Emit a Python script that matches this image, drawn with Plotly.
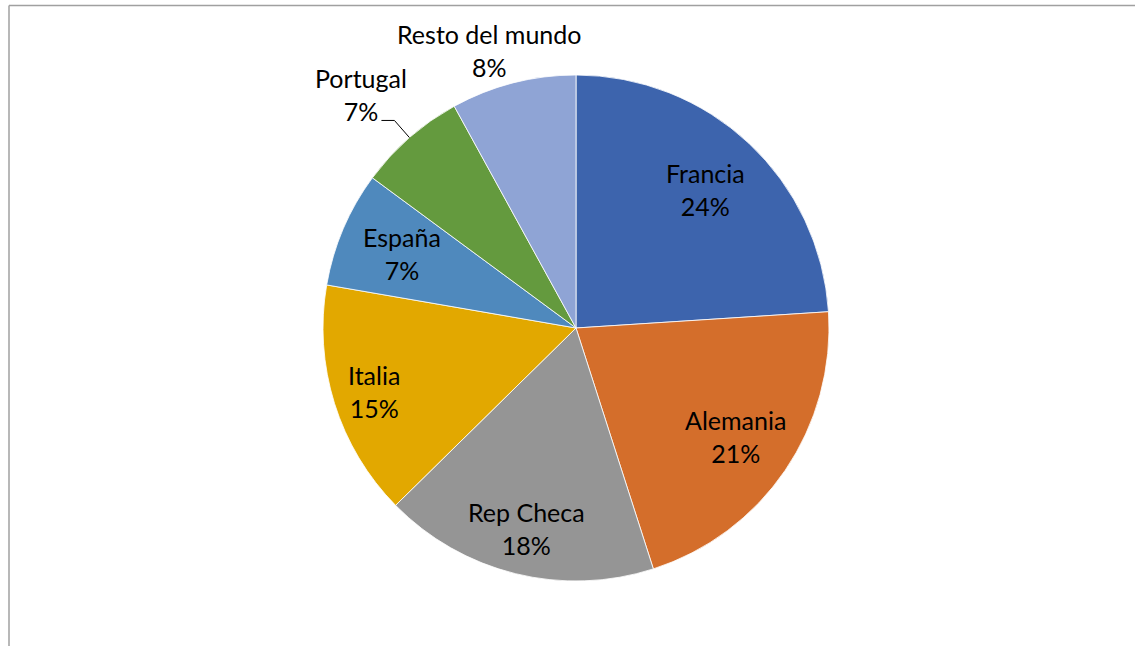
import math
import plotly.graph_objects as go

labels = ["Francia", "Alemania", "Rep Checa", "Italia", "España", "Portugal", "Resto del mundo"]
values = [24.0, 21.1, 17.6, 15.1, 7.4, 6.9, 8.0]
colors = ["#3D64AD", "#D46E2B", "#959595", "#E2A800", "#4F89BD", "#649A3E", "#8FA4D5"]

W, H = 1135, 646
ML, MR, MT, MB = 80, 63, 75, 65
PW, PH = W - ML - MR, H - MT - MB
R = min(PW, PH) / 2.0

# label placement (layout only): radius as fraction of pie radius, angular tweak in degrees
label_rfac = [0.75, 0.763, 0.815, 0.838, 0.749, 1.254, 1.15]
label_dang = [0, 0, 0, 0, 0, -1.4, -3.1]

fig = go.Figure(go.Pie(
    labels=labels,
    values=values,
    sort=False,
    direction="clockwise",
    rotation=0,
    marker=dict(colors=colors, line=dict(color="#FFFFFF", width=0.8)),
    textinfo="none",
    showlegend=False,
    hoverinfo="label+percent",
))

def to_paper(angle, rfac, dx=0.0, dy=0.0):
    x = 0.5 + (rfac * R * math.sin(angle) + dx) / PW
    y = 0.5 + (rfac * R * math.cos(angle) + dy) / PH
    return x, y

total = sum(values)
annotations = []
shapes = []
cum = 0.0
for lab, v, rf, da in zip(labels, values, label_rfac, label_dang):
    mid = 2 * math.pi * (cum + v / 2.0) / total
    cum += v
    pct = round(100 * v / total)
    x, y = to_paper(mid + math.radians(da), rf)
    annotations.append(dict(
        x=x, y=y, xref="paper", yref="paper",
        text=f"{lab}<br>{pct}%", showarrow=False,
        font=dict(family="Lato", size=25, color="#000000"),
        xanchor="center", yanchor="middle", align="center",
    ))
    if lab == "Portugal":
        x0, y0 = to_paper(mid, 1.0)
        x1, y1 = to_paper(mid, 1.09)
        x2, y2 = to_paper(mid, 1.09, dx=-13)
        shapes.append(dict(
            type="path", xref="paper", yref="paper",
            path=f"M {x0} {y0} L {x1} {y1} L {x2} {y2}",
            line=dict(color="#000000", width=1),
        ))

# chart-area frame: only top and left edges are visible in the reference
bx0 = (9 - ML) / PW
bx1 = (W + 60 - ML) / PW
by_top = 1 + (MT - 5.5) / PH
by_bot = -(MB + 60) / PH
for (xa, ya, xb, yb) in [(bx0, by_top, bx1, by_top), (bx0, by_bot, bx0, by_top)]:
    shapes.append(dict(
        type="line", xref="paper", yref="paper",
        x0=xa, y0=ya, x1=xb, y1=yb,
        line=dict(color="#A0A0A0", width=1.5), layer="below",
    ))

fig.update_layout(
    width=W,
    height=H,
    margin=dict(l=ML, r=MR, t=MT, b=MB, autoexpand=False),
    paper_bgcolor="#FFFFFF",
    plot_bgcolor="#FFFFFF",
    annotations=annotations,
    shapes=shapes,
)

fig.write_html(
    "out.html",
    config={"displayModeBar": False},
    post_script="document.body.style.margin='0px';",
)
